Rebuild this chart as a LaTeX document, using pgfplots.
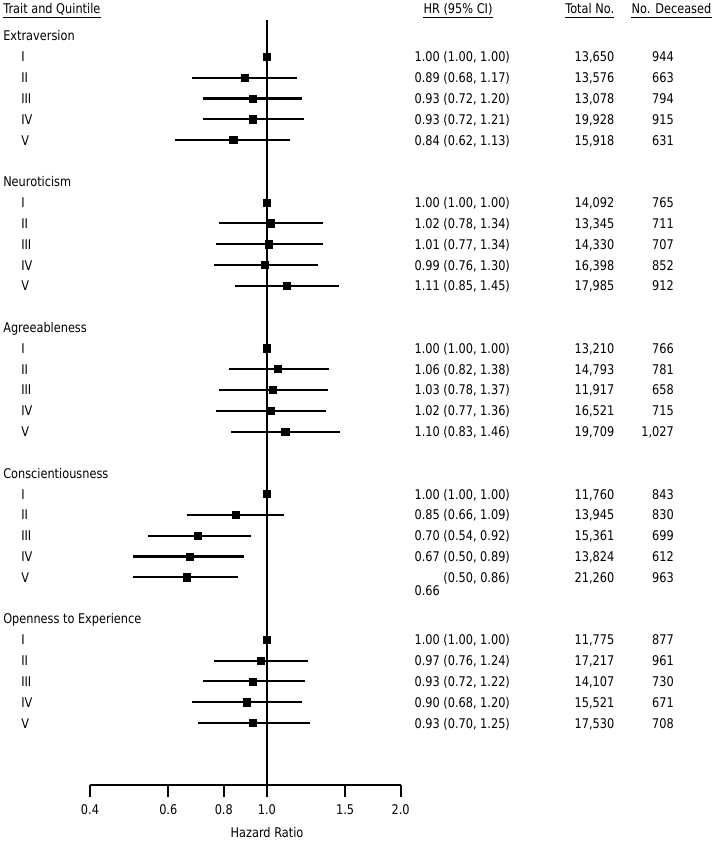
\documentclass[border=0pt]{standalone}
\usepackage{fontspec}
\setmainfont{DejaVu Sans}[FakeStretch=0.85]
\usepackage{pgfplots}
\pgfplotsset{compat=1.18}
\usepackage{pgfplotstable}

\pgfplotstableread{
r hr lo hi
1 1.00 1.00 1.00
2 0.89 0.68 1.17
3 0.93 0.72 1.20
4 0.93 0.72 1.21
5 0.84 0.62 1.13
8 1.00 1.00 1.00
9 1.02 0.78 1.34
10 1.01 0.77 1.34
11 0.99 0.76 1.30
12 1.11 0.85 1.45
15 1.00 1.00 1.00
16 1.06 0.82 1.38
17 1.03 0.78 1.37
18 1.02 0.77 1.36
19 1.10 0.83 1.46
22 1.00 1.00 1.00
23 0.85 0.66 1.09
24 0.70 0.54 0.92
25 0.67 0.50 0.89
26 0.66 0.50 0.86
29 1.00 1.00 1.00
30 0.97 0.76 1.24
31 0.93 0.72 1.22
32 0.90 0.68 1.20
33 0.93 0.70 1.25
}\hrdata

\newcommand\RY[1]{{36+20.82*(#1)+5}}
\newcommand\R[4]{%
  \node[anchor=base west] at (414.3,\RY{#1}) {#2};
  \node[anchor=base east] at (614.5,\RY{#1}) {#3};
  \node[anchor=base east] at (674,\RY{#1}) {#4};}

\begin{document}
\begin{tikzpicture}[font=\fontsize{10}{12}\selectfont]
\begin{axis}[
  scale only axis, width=233.0pt, height=573.75pt,
  xmode=log, xmin=0.4, xmax=2.0, ymin=-35.975, ymax=0.768,
  axis x line=bottom, axis y line=none,
  axis line style={-}, x axis line style={-, line width=1.4pt},
  xtick={0.4,0.6,0.8,1,1.5,2}, xticklabels={0.4,0.6,0.8,1.0,1.5,2.0},
  minor xtick={},
  tick align=outside, major tick length=9pt,
  xtick style={line width=1.4pt, black},
  xticklabel style={inner sep=0pt, anchor=base, yshift=-12.75pt, font=\fontsize{10}{12}\selectfont},
  /pgf/number format/assume math mode=true,
  clip=false,
]
\draw[line width=1.5pt] (axis cs:1,0.768) -- (axis cs:1,-35.975);
\addplot[only marks, mark=square*, mark size=2.7pt, black,
  error bars/.cd, x dir=both, x explicit, error mark=none,
  error bar style={line width=1.6pt, black}]
  table[x=hr, y expr=-\thisrow{r},
        x error plus expr=\thisrow{hi}-\thisrow{hr},
        x error minus expr=\thisrow{hr}-\thisrow{lo}] {\hrdata};
\end{axis}
\begin{scope}[x=0.75pt, y=-0.75pt, shift={(-67.5pt,588.75pt)}, every node/.style={inner sep=0pt}]
\path (0,0) rectangle (718,842);
% headers
\node[anchor=base west] (h1) at (3,14) {Trait and Quintile};
\node[anchor=base] (h2) at (458,14) {HR (95\% CI)};
\node[anchor=base] (h3) at (589.7,14) {Total No.};
\node[anchor=base] (h4) at (671.5,14) {No. Deceased};
\foreach \h in {h1,h2,h3,h4}
  \draw[line width=0.9pt] ([yshift=-2.4pt]\h.base west) -- ([yshift=-2.4pt]\h.base east);
% groups
\node[anchor=base west] at (3,\RY{0}) {Extraversion};
\node[anchor=base west] at (3,\RY{7}) {Neuroticism};
\node[anchor=base west] at (3,\RY{14}) {Agreeableness};
\node[anchor=base west] at (3,\RY{21}) {Conscientiousness};
\node[anchor=base west] at (3,\RY{28}) {Openness to Experience};
\foreach \g in {0,...,4}
  \foreach \q/\lab in {1/I,2/II,3/III,4/IV,5/V}
    \node[anchor=base west] at (21,{36+20.82*(7*\g+\q)+5}) {\lab};
% table columns
\R{1}{1.00 (1.00, 1.00)}{13,650}{944}
\R{2}{0.89 (0.68, 1.17)}{13,576}{663}
\R{3}{0.93 (0.72, 1.20)}{13,078}{794}
\R{4}{0.93 (0.72, 1.21)}{19,928}{915}
\R{5}{0.84 (0.62, 1.13)}{15,918}{631}
\R{8}{1.00 (1.00, 1.00)}{14,092}{765}
\R{9}{1.02 (0.78, 1.34)}{13,345}{711}
\R{10}{1.01 (0.77, 1.34)}{14,330}{707}
\R{11}{0.99 (0.76, 1.30)}{16,398}{852}
\R{12}{1.11 (0.85, 1.45)}{17,985}{912}
\R{15}{1.00 (1.00, 1.00)}{13,210}{766}
\R{16}{1.06 (0.82, 1.38)}{14,793}{781}
\R{17}{1.03 (0.78, 1.37)}{11,917}{658}
\R{18}{1.02 (0.77, 1.36)}{16,521}{715}
\R{19}{1.10 (0.83, 1.46)}{19,709}{1,027}
\R{22}{1.00 (1.00, 1.00)}{11,760}{843}
\R{23}{0.85 (0.66, 1.09)}{13,945}{830}
\R{24}{0.70 (0.54, 0.92)}{15,361}{699}
\R{25}{0.67 (0.50, 0.89)}{13,824}{612}
\R{26}{\phantom{0.66 }(0.50, 0.86)}{21,260}{963}
\node[anchor=base west] at (414.3,{36+20.82*26+5+13}) {0.66};
\R{29}{1.00 (1.00, 1.00)}{11,775}{877}
\R{30}{0.97 (0.76, 1.24)}{17,217}{961}
\R{31}{0.93 (0.72, 1.22)}{14,107}{730}
\R{32}{0.90 (0.68, 1.20)}{15,521}{671}
\R{33}{0.93 (0.70, 1.25)}{17,530}{708}
\node[anchor=base] at (267,838) {Hazard Ratio};
\end{scope}
\end{tikzpicture}
\end{document}
